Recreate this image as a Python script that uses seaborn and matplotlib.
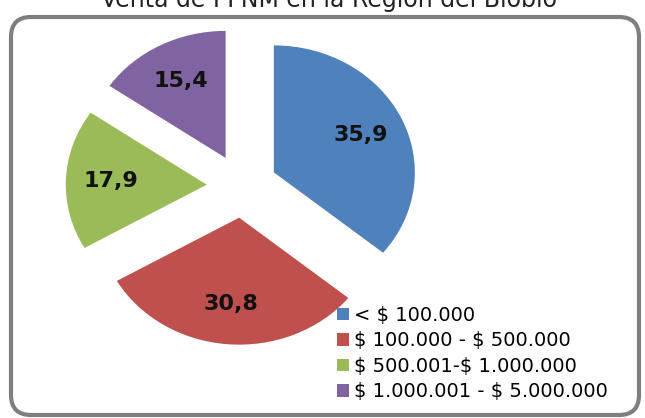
import matplotlib
matplotlib.use("Agg")
from matplotlib import pyplot as plt
from matplotlib.patches import FancyBboxPatch
import seaborn as sns

# chart data
categories = ["< $ 100.000", "$ 100.000 - $ 500.000",
              "$ 500.001-$ 1.000.000", "$ 1.000.001 - $ 5.000.000"]
values = [35.9, 30.8, 17.9, 15.4]
value_labels = [("%.1f" % v).replace(".", ",") for v in values]
colors = ["#4F81BD", "#C0504D", "#9BBB59", "#8064A2"]
title = "Venta de PFNM en la Región del Biobío"

sns.set_style("white")
plt.rcParams['font.family'] = ['DejaVu Sans']
plt.rcParams['text.parse_math'] = False  # keep the $ signs literal

fig = plt.figure(figsize=(6.45, 4.18), dpi=100)
fig.patch.set_facecolor("white")

# rounded chart border (inches), kept behind the pie
border = FancyBboxPatch((0.11, 0.03), 6.28, 3.98,
                        boxstyle="round,pad=0,rounding_size=0.2",
                        transform=fig.dpi_scale_trans, zorder=-5,
                        facecolor="white", edgecolor="#7f7f7f", linewidth=3)
fig.patches.append(border)

ax = fig.add_axes([0, 0, 1, 1])
ax.set_zorder(2)
ax.patch.set_alpha(0)
wedges, texts = ax.pie(values, labels=value_labels, colors=colors,
                       explode=[0.25] * len(values), startangle=90,
                       counterclock=False, labeldistance=0.68,
                       wedgeprops=dict(linewidth=0))
for t in texts:
    t.set_ha("center")
    t.set_va("center")
    t.set_fontsize(16)
    t.set_fontweight("bold")
    t.set_color("#111111")

# stretch the pie a little wider than tall, as in the original
ax.set_aspect("auto")
ax.set_xlim(-242 / 141, (645 - 242) / 141)
ax.set_ylim(-(418 - 186) / 127, 186 / 127)
ax.axis("off")

leg = fig.legend(wedges, categories, loc="upper left",
                 bbox_to_anchor=(337 / 645, 1 - 306 / 418), frameon=False,
                 fontsize=14, handlelength=0.6, handleheight=0.6,
                 handletextpad=0.25, labelspacing=0.33, borderpad=0,
                 borderaxespad=0)
for t in leg.get_texts():
    t.set_color("black")
leg.set_zorder(3)

fig.text(0.51, 1 - 7 / 418, title, ha="center", va="baseline",
         fontsize=17, color="#222222")

fig.savefig("out.png", dpi=100)
